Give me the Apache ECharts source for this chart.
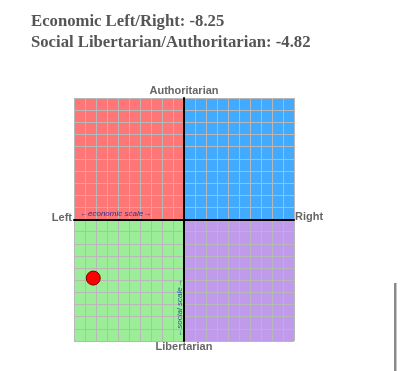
<!DOCTYPE html>
<html>
<head>
<meta charset="utf-8">
<script src="https://cdn.jsdelivr.net/npm/echarts@6/dist/echarts.min.js"></script>
<style>
  html, body { margin: 0; padding: 0; background: #fff; }
  #compass { width: 400px; height: 371px; }
</style>
</head>
<body>
<div id="compass"></div>
<script>
// scores
var economicScore = -8.25;
var socialScore = -4.82;

// quadrants: [xFrom, yFrom, xTo, yTo]
var quadrantNames = ['Auth Left', 'Auth Right', 'Lib Left', 'Lib Right'];
var quadrantBoxes = [[-10, 0, 0, 10], [0, 0, 10, 10], [-10, -10, 0, 0], [0, -10, 10, 0]];
var quadrantColors = ['#ff7676', '#42aaff', '#9ced98', '#c09aeb'];

var titleLines = [
  'Economic Left/Right: ' + economicScore,
  'Social Libertarian/Authoritarian: ' + socialScore
];

var myChart = echarts.init(document.getElementById('compass'));

var areas = quadrantBoxes.map(function (b, i) {
  return [
    { name: quadrantNames[i], coord: [b[0], b[1]], itemStyle: { color: quadrantColors[i], opacity: 1 } },
    { coord: [b[2], b[3]] }
  ];
});

var axisCommon = {
  type: 'value',
  min: -10,
  max: 10,
  interval: 1,
  z: 3,
  axisLine: { onZero: true, lineStyle: { color: '#000', width: 2 } },
  axisTick: { show: false },
  axisLabel: { show: false },
  splitLine: { lineStyle: { color: '#b8b8b8', width: 1 } }
};

var option = {
  animation: false,
  grid: { left: 74, top: 98, width: 220, height: 243 },
  xAxis: axisCommon,
  yAxis: axisCommon,
  graphic: [
    {
      type: 'text', left: 31, top: 13,
      style: { text: titleLines[0], font: 'bold 16.7px "Liberation Serif"', fill: '#555' }
    },
    {
      type: 'text', left: 31, top: 34,
      style: { text: titleLines[1], font: 'bold 16.7px "Liberation Serif"', fill: '#555' }
    },
    {
      type: 'text', x: 184, y: 91,
      style: { text: 'Authoritarian', font: 'bold 11px "Liberation Sans"', fill: '#666', align: 'center', verticalAlign: 'middle' }
    },
    {
      type: 'text', x: 184, y: 347,
      style: { text: 'Libertarian', font: 'bold 11px "Liberation Sans"', fill: '#666', align: 'center', verticalAlign: 'middle' }
    },
    {
      type: 'text', x: 72, y: 218,
      style: { text: 'Left', font: 'bold 11px "Liberation Sans"', fill: '#666', align: 'right', verticalAlign: 'middle' }
    },
    {
      type: 'text', x: 295, y: 217,
      style: { text: 'Right', font: 'bold 11px "Liberation Sans"', fill: '#666', align: 'left', verticalAlign: 'middle' }
    },
    {
      type: 'text', x: 80, y: 214, z: 10,
      style: { text: '\u2190economic scale\u2192', font: 'italic 8px "Liberation Sans"', fill: '#3a2a86', verticalAlign: 'middle' }
    },
    {
      type: 'text', x: 180, y: 308, rotation: Math.PI / 2, z: 10,
      style: { text: '\u2190social scale\u2192', font: 'italic 8px "Liberation Sans"', fill: '#1d5a86', align: 'center', verticalAlign: 'middle' }
    },
    {
      type: 'rect', shape: { x: 394, y: 283, width: 2.5, height: 90 },
      style: { fill: '#8a8a8a' }
    }
  ],
  series: [
    {
      type: 'scatter',
      z: 5,
      symbolSize: 14,
      itemStyle: { color: '#ff0000', borderColor: '#7a0000', borderWidth: 1, opacity: 1 },
      data: [[economicScore, socialScore]],
      markArea: { silent: true, z: 1, label: { show: false }, data: areas }
    }
  ]
};

myChart.setOption(option);
</script>
</body>
</html>
